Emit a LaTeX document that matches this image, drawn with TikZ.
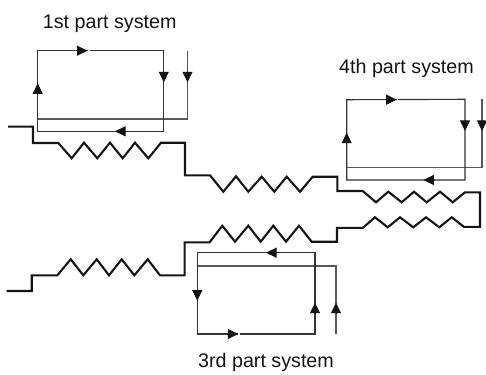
\documentclass[tikz,border=0pt]{standalone}
\usepackage{fontspec}
\setmainfont{Liberation Sans}
\usetikzlibrary{arrows.meta}
\tikzset{
  spring/.style={line width=2.1pt,black!92,line join=miter},
  loopline/.style={line width=1.15pt,black!80},
  feedline/.style={line width=1.15pt,black!65},
  headtip/.style={-{Triangle[length=10.5pt,width=10pt,fill=black!92]},line width=0.8pt,black!92},
  tipgap/.style={white,line width=2.2pt},
  caption/.style={font=\fontsize{19.7}{22}\selectfont,text=black!92,inner sep=0pt,anchor=base}
}
\begin{document}
\begin{tikzpicture}[x=1pt,y=-1pt]
\useasboundingbox (0,0) rectangle (486,374);
% main spring line
\draw[spring] (8,126.7) -- (33,126.7) -- (33,143) -- (58.3,143)
  -- (71.7,158.3) -- (84,142.7) -- (97.3,158.3) -- (110,142.7) -- (122.7,158.3)
  -- (135,142.7) -- (148.3,158.3) -- (161,142.7) -- (185,142.7) -- (185,175.3) -- (210,175.3)
  -- (223.3,191.7) -- (236,176.3) -- (248.3,191.7) -- (261.7,176.7) -- (274.3,191.7)
  -- (286.7,176.7) -- (300,191.7) -- (312.7,176.7) -- (337.3,176.7) -- (337.3,191) -- (362.7,191)
  -- (376,202.3) -- (388.3,191.7) -- (401.7,202.3) -- (414,191.7) -- (426.7,202.3)
  -- (440,191.7) -- (452.7,202.3) -- (465,192.3) -- (480,192.3) -- (480,226.9) -- (464,226.9)
  -- (451.7,217.3) -- (439.3,227.3) -- (426,217.3) -- (413.3,227.3) -- (400,217.3)
  -- (387.7,227.3) -- (375,217.3) -- (362.7,227.9) -- (337,227.9) -- (337,241.7) -- (311.7,241.7)
  -- (299,225.7) -- (286,241.7) -- (273.3,225.7) -- (260.7,241.7) -- (248.3,225.7)
  -- (235,241.7) -- (222.3,225.7) -- (209.6,242.3) -- (184.6,242.3) -- (184.6,275.3) -- (160,275.3)
  -- (147.7,259.3) -- (134.3,275.3) -- (121.7,259.3) -- (109,275.3) -- (96.7,259.3)
  -- (83.3,275.3) -- (70.7,259.3) -- (57.3,275.3) -- (31.7,275.3) -- (31.7,291) -- (6.7,291);
% 1st part system
\draw[feedline] (187.5,51) -- (187.5,119) -- (38,119);
\draw[loopline] (37.7,50.7) -- (163.8,50.7) -- (163.8,131.3) -- (37.7,131.3) -- cycle;
\draw[tipgap] (87.5,50.7) -- (89.5,50.7);
\draw[headtip] (76,50.7) -- (87.5,50.7);
\draw[headtip] (163.8,71) -- (163.8,82.3);
\draw[headtip] (187.5,71) -- (187.5,82.3);
\draw[headtip] (37.7,94.5) -- (37.7,83.3);
\draw[headtip] (126,131.3) -- (115,131.3);
% 4th part system
\draw[feedline] (482,99) -- (482,167.7) -- (346.7,167.7);
\draw[loopline] (346.7,99.7) -- (465,99.3) -- (465,180) -- (346.7,180) -- cycle;
\draw[tipgap] (396.7,99.5) -- (398.2,99.5);
\draw[headtip] (385.5,99.7) -- (396.7,99.7);
\draw[headtip] (465,120) -- (465,131);
\draw[headtip] (482,120) -- (482,131);
\draw[headtip] (346.7,144) -- (346.7,132.7);
\draw[headtip] (434.5,180) -- (423.3,180);
% 3rd part system
\draw[feedline] (336,334) -- (336,266) -- (197.3,266);
\draw[loopline] (197.3,252.7) -- (315,252.7) -- (315,334) -- (197.3,334) -- cycle;
\draw[tipgap] (238.3,334) -- (240,334);
\draw[headtip] (277,252.7) -- (266,252.7);
\draw[headtip] (197.3,289.5) -- (197.3,300.7);
\draw[headtip] (227,334) -- (238.3,334);
\draw[headtip] (315,314) -- (315,302.7);
\draw[headtip] (336,314) -- (336,302.7);
% captions
\node[caption] (first) at (109.7,28.3) {1st part system};
\node[caption] (fourth) at (406.5,73.8) {4th part system};
\node[caption] (third) at (266,367.8) {3rd part system};
\end{tikzpicture}
\end{document}
